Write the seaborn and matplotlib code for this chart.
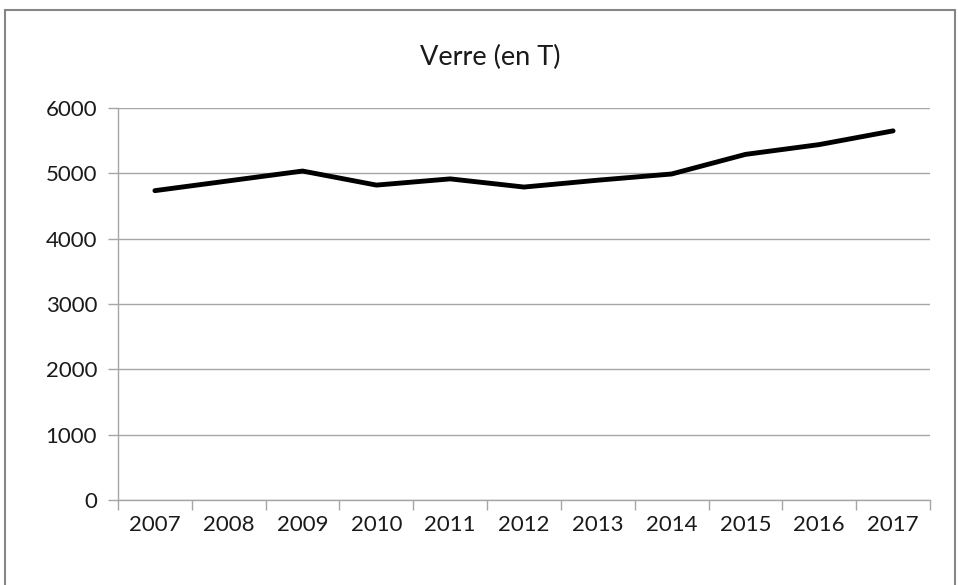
import pandas as pd
import seaborn as sns
import matplotlib.pyplot as plt
from matplotlib.patches import Rectangle
from matplotlib.ticker import FixedLocator, NullFormatter

years = ['2007', '2008', '2009', '2010', '2011', '2012',
         '2013', '2014', '2015', '2016', '2017']
verre = [4735, 4885, 5035, 4820, 4915, 4790, 4895, 4990, 5290, 5440, 5650]

df = pd.DataFrame({'year': years, 'verre': verre})
df['pos'] = range(len(years))

sns.set_style('white')
plt.rcParams['font.family'] = ['Lato', 'DejaVu Sans']

fig = plt.figure(figsize=(9.58, 5.85), dpi=100)
ax = fig.add_axes([118 / 958, 85 / 585, 812 / 958, 392 / 585])

sns.lineplot(data=df, x='pos', y='verre', color='black', linewidth=3.5, ax=ax)

ax.set_xlim(-0.5, len(years) - 0.5)
ax.set_ylim(0, 6000)
ax.set_yticks(range(0, 7000, 1000))
ax.yaxis.grid(True, color='#a6a6a6', linewidth=1)
ax.set_axisbelow(True)

# category ticks between years, labels in the middle
ax.xaxis.set_major_locator(FixedLocator([i - 0.5 for i in range(len(years) + 1)]))
ax.xaxis.set_major_formatter(NullFormatter())
ax.xaxis.set_minor_locator(FixedLocator(list(df['pos'])))
ax.set_xticklabels(years, minor=True)
ax.tick_params(axis='x', which='major', bottom=True, length=7, width=1,
               color='#a6a6a6', direction='out')
ax.tick_params(axis='x', which='minor', bottom=True, length=0, pad=11,
               labelsize=16, labelcolor='#1a1a1a')
ax.tick_params(axis='y', left=True, length=7, width=1, color='#a6a6a6',
               direction='out', pad=8, labelsize=16, labelcolor='#1a1a1a')

for s in ['top', 'right']:
    ax.spines[s].set_visible(False)
for s in ['left', 'bottom']:
    ax.spines[s].set_color('#a6a6a6')
    ax.spines[s].set_linewidth(1)

ax.set_xlabel('')
ax.set_ylabel('')
fig.text(490 / 958, 1 - 57 / 585, 'Verre (en T)', ha='center', va='center',
         fontsize=19.5, color='#1a1a1a')

fig.patches.append(Rectangle((5 / 958, -0.01), 950 / 958, 1 - 10 / 585 + 0.01,
                             transform=fig.transFigure, fill=False,
                             edgecolor='#868686', linewidth=1.5))

fig.savefig('out.png', dpi=100)
